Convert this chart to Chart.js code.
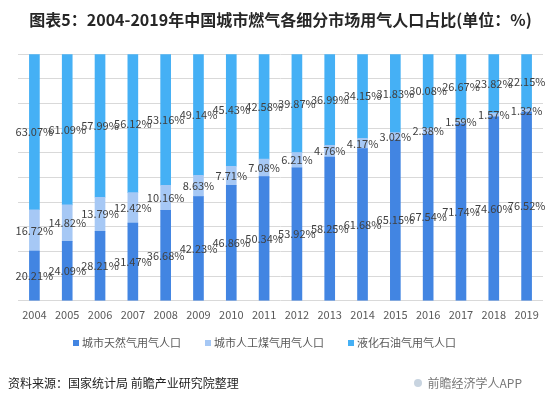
<!DOCTYPE html>
<html>
<head>
<meta charset="utf-8">
<script src="https://cdn.jsdelivr.net/npm/chart.js@4"></script>
<style>
  html, body { margin: 0; padding: 0; background: #fff; }
  #wrap { width: 554px; height: 404px; }
</style>
</head>
<body>
<div id="wrap"><canvas id="gasChart" width="554" height="404"></canvas></div>
<script>
"use strict";

const years = ["2004", "2005", "2006", "2007", "2008", "2009", "2010", "2011",
               "2012", "2013", "2014", "2015", "2016", "2017", "2018", "2019"];
const naturalGas = [20.21, 24.09, 28.21, 31.47, 36.68, 42.23, 46.86, 50.34,
                    53.92, 58.25, 61.68, 65.15, 67.54, 71.74, 74.60, 76.52];
const coalGas    = [16.72, 14.82, 13.79, 12.42, 10.16, 8.63, 7.71, 7.08,
                    6.21, 4.76, 4.17, 3.02, 2.38, 1.59, 1.57, 1.32];
const lpg        = [63.07, 61.09, 57.99, 56.12, 53.16, 49.14, 45.43, 42.58,
                    39.87, 36.99, 34.15, 31.83, 30.08, 26.67, 23.82, 22.15];
const seriesNames = ["城市天然气用气人口", "城市人工煤气用气人口", "液化石油气用气人口"];

const FONT = "'Noto Sans CJK SC', 'Noto Sans', sans-serif";
const COLORS = ["#4285e2", "#a6c8f5", "#45b0f5"];

// value labels in the middle of every segment
const segmentLabels = {
  id: "segmentLabels",
  afterDatasetsDraw(chart) {
    const ctx = chart.ctx;
    ctx.save();
    ctx.font = "11px " + FONT;
    ctx.fillStyle = "#404040";
    ctx.textAlign = "center";
    ctx.textBaseline = "middle";
    chart.data.datasets.forEach((ds, i) => {
      const meta = chart.getDatasetMeta(i);
      meta.data.forEach((bar, j) => {
        const v = ds.data[j];
        ctx.fillText(v.toFixed(2) + "%", bar.x, (bar.y + bar.base) / 2);
      });
    });
    ctx.restore();
  },
};

// legend row + source line at the bottom
const footer = {
  id: "footer",
  afterDraw(chart) {
    const ctx = chart.ctx;
    ctx.save();
    ctx.textBaseline = "middle";

    // legend, laid out from the dataset labels
    ctx.font = "11px " + FONT;
    ctx.textAlign = "left";
    let x = 73;
    chart.data.datasets.forEach((ds) => {
      ctx.fillStyle = ds.backgroundColor;
      ctx.fillRect(x, 340, 6, 6);
      ctx.fillStyle = "#595959";
      ctx.fillText(ds.label, x + 9, 343);
      x += 9 + ctx.measureText(ds.label).width + 24;
    });

    ctx.font = "12px " + FONT;
    ctx.fillStyle = "#222";
    ctx.fillText("资料来源：国家统计局 前瞻产业研究院整理", 8, 383);
    ctx.fillStyle = "#777";
    ctx.textAlign = "right";
    ctx.fillText("前瞻经济学人APP", 522, 383);
    ctx.fillStyle = "#c8d4e0";
    ctx.beginPath();
    ctx.arc(418, 383, 4, 0, Math.PI * 2);
    ctx.fill();
    ctx.restore();
  },
};

new Chart(document.getElementById("gasChart"), {
  type: "bar",
  data: {
    labels: years,
    datasets: [naturalGas, coalGas, lpg].map((vals, i) => ({
      label: seriesNames[i],
      data: vals,
      backgroundColor: COLORS[i],
      borderWidth: 0,
      barThickness: 10,
    })),
  },
  options: {
    responsive: false,
    animation: false,
    layout: { padding: { left: 18, right: 11, top: 0, bottom: 76 } },
    plugins: {
      title: {
        display: true,
        text: "图表5：2004-2019年中国城市燃气各细分市场用气人口占比(单位：%)",
        color: "#262626",
        font: { family: FONT, size: 16, weight: "bold" },
        padding: { top: 10, bottom: 25 },
      },
      legend: { display: false },
      tooltip: { enabled: false },
    },
    scales: {
      x: {
        stacked: true,
        grid: { display: false, drawTicks: false },
        border: { display: false },
        ticks: { color: "#595959", font: { family: FONT, size: 11 }, padding: 7 },
      },
      y: {
        stacked: true,
        min: 0,
        max: 100,
        grid: { color: "#d9d9d9", drawTicks: false },
        border: { display: false },
        ticks: { display: false, stepSize: 10 },
      },
    },
  },
  plugins: [segmentLabels, footer],
});
</script>
</body>
</html>
